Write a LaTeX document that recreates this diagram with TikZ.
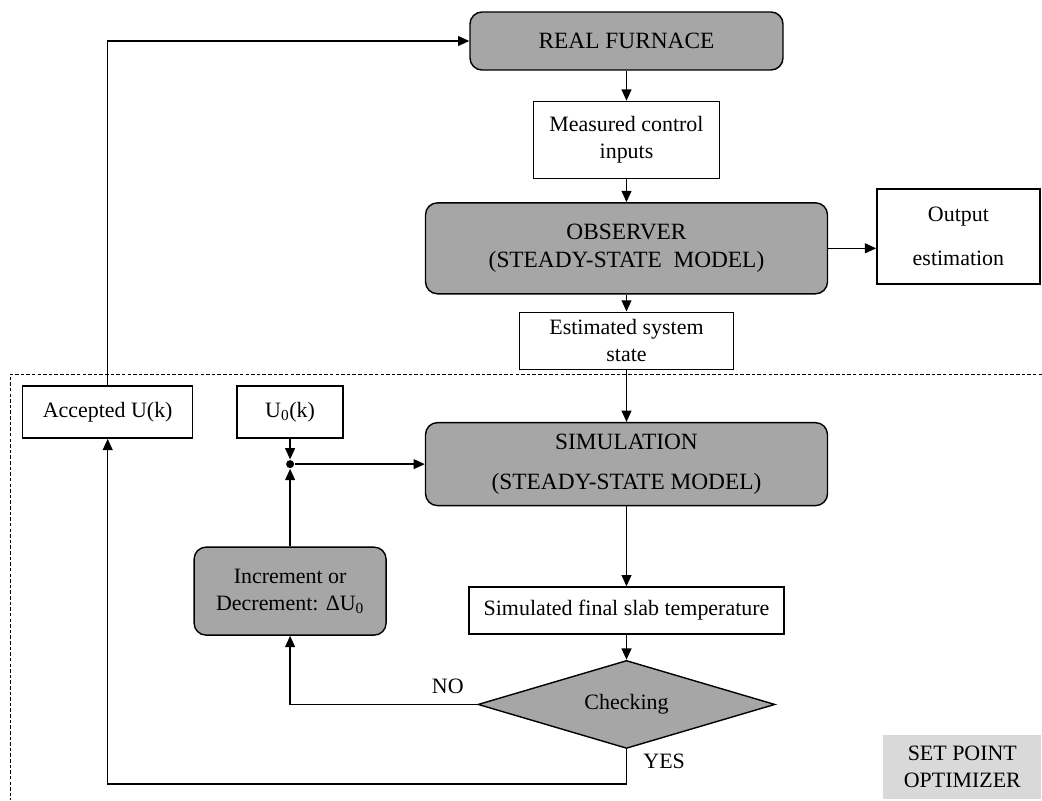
\documentclass[tikz,border=0pt]{standalone}
\usepackage{fontspec}
\setmainfont{Liberation Serif}
\usepackage{tikz}
\usetikzlibrary{shapes.geometric, arrows.meta, positioning, calc}
\definecolor{boxgray}{RGB}{166,166,166}
\definecolor{optgray}{RGB}{217,217,217}

\begin{document}
\begin{tikzpicture}[
    >={Triangle[length=8pt, width=7pt]},   % <── filled arrow heads
    line width=1pt,
    font=\fontsize{15.6}{19.2}\selectfont,
    proc_node/.style={rectangle, rounded corners=0.3cm, draw, fill=boxgray, align=center, font=\fontsize{16.6}{20}\selectfont},
    data_node/.style={rectangle, draw, fill=white, align=center},
    check_node/.style={diamond, aspect=3.4, draw, fill=boxgray, align=center, minimum width=7.425cm, minimum height=2.2cm, inner sep=2pt}
    ]
    \useasboundingbox (0,0) rectangle (26.05,-20);

    % Optimizer frame
    \draw[line width=0.5pt, dash pattern=on 2.5pt off 1.5pt] (26.05,-9.35) -| (0.25,-20);

    % Main chain
    \node[proc_node, minimum width=7.825cm, minimum height=1.45cm] (furnace) at (15.6625,-1.025) {REAL FURNACE};
    \node[data_node, minimum width=4.65cm, minimum height=1.925cm] (meas) [below=0.75cm of furnace] {Measured control\\inputs};
    \node[proc_node, minimum width=10.05cm, minimum height=2.275cm] (obs) [below=0.575cm of meas] {OBSERVER\\(STEADY-STATE~~MODEL)};
    \node[data_node, minimum width=5.35cm, minimum height=1.425cm] (est) [below=0.425cm of obs] {Estimated system\\state};
    \node[proc_node, minimum width=10.05cm, minimum height=2.075cm] (sim) [below=1.3cm of est] {SIMULATION\\[0.3cm](STEADY-STATE MODEL)};
    \node[data_node, minimum width=7.875cm, minimum height=1.175cm] (slab) [below=2cm of sim] {Simulated final slab temperature};
    \node[check_node] (check) [below=0.625cm of slab] {Checking};
    \node[data_node, minimum width=4.075cm, minimum height=2.375cm] (out) [right=1.2cm of obs, yshift=0.3cm] {Output\\[0.42cm]estimation};

    % Optimizer loop
    \node[data_node, minimum width=2.65cm, minimum height=1.3cm] (uzero) [left=2.025cm of sim, yshift=1.3cm] {U\textsubscript{0}(k)};
    \node[data_node, minimum width=4.25cm, minimum height=1.3cm] (acc) [left=1.075cm of uzero] {Accepted U(k)};
    \node[circle, fill, inner sep=0pt, minimum size=0.2cm] (junc) at (uzero |- sim) {};
    \node[proc_node, minimum width=4.8cm, minimum height=2.2cm, font=\fontsize{15.6}{19.2}\selectfont] (incr) [below=1.94cm of junc] {Increment or\\Decrement: ΔU\textsubscript{0}};
    \node[fill=optgray, align=center, minimum width=3.95cm, minimum height=1.6cm, anchor=south east] (opt) at (26.05,-20) {SET POINT\\OPTIMIZER};

    % Branch labels
    \node[anchor=south east, inner sep=0pt, xshift=-0.325cm, yshift=0.25cm] (no) at (check.west) {NO};
    \node[anchor=north west, inner sep=3pt, xshift=0.3cm] (yes) at (check.south) {YES};
    \coordinate (yesturn) at ($(check.south)+(0,-0.875)$);

    % Arrows
    \draw[->] (furnace) -- (meas);
    \draw[->] (meas) -- (obs);
    \draw[->] (obs) -- (est);
    \draw[->] (est) -- (sim);
    \draw[->] (obs.east) -- (obs.east -| out.west);
    \draw[->] (sim) -- (slab);
    \draw[->] (slab) -- (check);
    \draw[->] (check.west) -| (incr.south);
    \draw[->] (check.south) -- (yesturn) -| (acc.south);
    \draw[->] (acc.north) |- (furnace.west);
    \draw[->] (uzero) -- (junc);
    \draw[->] (incr) -- (junc);
    \draw[->] (junc) -- (sim.west);
\end{tikzpicture}
\end{document}
